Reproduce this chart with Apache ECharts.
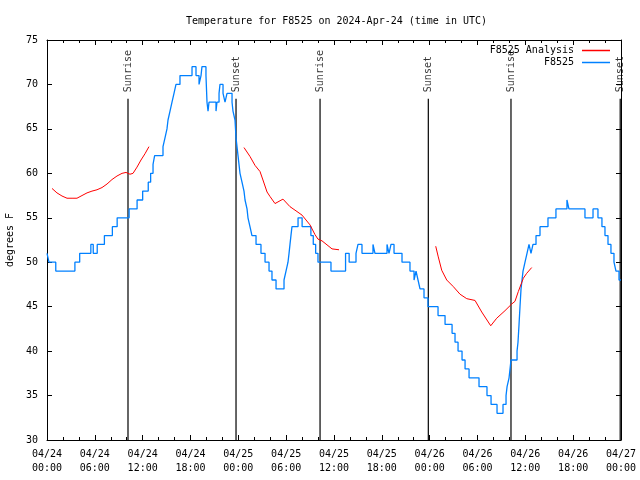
<!DOCTYPE html>
<html><head><meta charset="utf-8">
<script src="https://cdn.jsdelivr.net/npm/echarts@6/dist/echarts.min.js"></script>
<style>html,body{margin:0;padding:0;background:#fff}#c{width:640px;height:480px}</style>
</head><body><div id="c"></div>
<script>
// hours since 2024-04-24 00:00 UTC
const obsHours = [0.0,0.25,1.1,3.5,4.1,5.5,5.8,6.3,7.2,8.2,8.8,10.3,11.3,12.0,12.7,13.0,13.3,13.5,14.55,14.8,15.05,15.18,15.43,15.68,15.93,16.18,16.68,18.19,18.69,19.07,19.32,19.44,19.94,20.07,20.2,20.32,21.2,21.32,21.58,21.7,22.08,22.33,22.58,23.21,23.33,23.58,23.71,23.96,24.21,24.46,24.71,24.84,25.09,25.21,25.46,25.71,26.22,26.84,27.35,27.85,28.22,28.73,29.73,29.98,30.23,30.36,30.48,30.6,30.73,31.49,32.0,33.1,33.4,33.7,33.99,35.62,37.45,37.9,38.76,39.01,39.51,40.89,41.14,42.65,42.9,43.15,43.53,44.53,45.53,46.04,46.29,46.54,46.79,47.29,47.79,49.05,49.93,50.81,51.18,51.56,52.06,52.44,52.94,54.19,55.19,55.7,56.45,57.2,57.58,57.71,57.96,58.2,58.96,59.08,59.21,59.33,59.46,59.71,59.96,60.21,60.46,60.71,60.96,61.34,61.84,62.84,63.84,65.22,65.47,67.48,68.49,69.11,69.61,69.99,70.37,70.74,71.12,71.37,71.75,72.0];
const obsTemps = [51,50,49,50,51,52,51,52,53,54,55,56,57,58,59,60,61,62,63,64,65,66,67,68,69,70,71,72,71,70,71,72,71,68,67,68,67,68,69,70,69,68,69,68,67,66,64,62,60,59,58,57,56,55,54,53,52,51,50,49,48,47,48,49,50,51,52,53,54,55,54,53,52,51,50,49,51,50,51,52,51,52,51,52,51,52,51,50,49,48,49,48,47,46,45,44,43,42,41,40,39,38,37,36,35,34,33,34,35,36,37,39,40,41,43,45,47,49,50,51,52,51,52,53,54,55,56,57,56,55,56,55,54,53,52,51,50,49,48,48];

const anaHours1 = [0.63,1.25,1.88,2.51,3.14,3.76,4.39,5.02,5.64,6.27,6.9,7.53,8.15,8.78,9.41,9.91,10.41,10.79,11.29,11.79,12.29,12.79];
const anaTemps1 = [58.3,57.8,57.45,57.2,57.2,57.2,57.5,57.8,58.0,58.15,58.4,58.8,59.3,59.7,60.0,60.1,59.9,60.0,60.7,61.5,62.2,63.0];
const anaHours2 = [24.71,25.46,26.09,26.72,27.09,27.6,27.97,28.6,29.6,30.48,31.36,31.99,32.99,33.62,33.99,34.5,35.75,36.63];
const anaTemps2 = [62.9,61.9,60.9,60.2,59.25,57.9,57.4,56.6,57.1,56.25,55.7,55.3,54.2,53.1,52.6,52.4,51.5,51.4];
const anaHours3 = [48.76,49.08,49.51,50.14,50.97,51.81,52.65,53.69,54.53,55.66,56.41,57.45,58.29,58.7,59.12,59.75,60.17,60.8];
const anaTemps3 = [51.8,50.6,49.1,48.0,47.25,46.4,45.9,45.7,44.4,42.85,43.7,44.55,45.3,45.6,46.7,48.2,48.75,49.4];

const sunHours = [10.16,23.71,34.25,47.83,58.2,71.9];
const sunLabels = ['Sunrise','Sunset','Sunrise','Sunset','Sunrise','Sunset'];
const sunLineTop = 68.4;

const yTicks = {min:30, max:75, interval:5};
const xTicks = {min:0, max:72, interval:6};

const FONT = 'DejaVu Sans Mono';
const zip = (a,b) => a.map((v,i)=>[v,b[i]]);

const sunLineData = [];
sunHours.forEach(h => { sunLineData.push([h, yTicks.min]); sunLineData.push([h, sunLineTop]); sunLineData.push([h, '-']); });

function fmtX(v){
  const day = 24 + Math.floor(v/24);
  const hh = v % 24;
  return '04/' + day + '\n' + String(hh).padStart(2,'0') + ':00';
}

const anaStyle = {color:'#ff0000', width:1};
const chart = echarts.init(document.getElementById('c'), null, {renderer:'canvas'});
chart.setOption({
  animation:false,
  backgroundColor:'#ffffff',
  title:{text:'Temperature for F8525 on 2024-Apr-24 (time in UTC)', left:181, top:11,
    textStyle:{fontFamily:FONT, fontSize:10, fontWeight:'normal', color:'#000'}},
  legend:[
    {data:['F8525 Analysis'], right:30, top:45.5, padding:0, orient:'vertical', align:'right', icon:'rect', itemWidth:28, itemHeight:1.5, itemGap:0,
      textStyle:{fontFamily:FONT, fontSize:10, color:'#000', padding:[0,3,0,0]}, selectedMode:false},
    {data:['F8525'], right:30, top:57.5, padding:0, orient:'vertical', align:'right', icon:'rect', itemWidth:28, itemHeight:1.5, itemGap:0,
      textStyle:{fontFamily:FONT, fontSize:10, color:'#000', padding:[0,3,0,0]}, selectedMode:false}
  ],
  grid:{left:47, right:19, top:40, bottom:40, containLabel:false, outerBoundsMode:'none'},
  xAxis:[
    {type:'value', position:'bottom', min:xTicks.min, max:xTicks.max, interval:xTicks.interval,
      axisLine:{show:true, onZero:false, lineStyle:{color:'#000', width:1}},
      axisTick:{show:true, inside:true, length:5, lineStyle:{color:'#000'}},
      minorTick:{show:true, splitNumber:3, length:3, lineStyle:{color:'#000'}},
      splitLine:{show:false},
      axisLabel:{formatter:fmtX, fontFamily:FONT, fontSize:10, color:'#000', lineHeight:14, margin:7}},
    {type:'value', position:'top', min:xTicks.min, max:xTicks.max, interval:xTicks.interval,
      axisLine:{show:true, onZero:false, lineStyle:{color:'#000', width:1}},
      axisTick:{show:true, inside:true, length:5, lineStyle:{color:'#000'}},
      minorTick:{show:true, splitNumber:3, length:3, lineStyle:{color:'#000'}},
      splitLine:{show:false}, axisLabel:{show:false}}
  ],
  yAxis:[
    {type:'value', position:'left', min:yTicks.min, max:yTicks.max, interval:yTicks.interval,
      name:'degrees F', nameLocation:'middle', nameRotate:90, nameGap:32,
      nameTextStyle:{fontFamily:FONT, fontSize:10, color:'#000'},
      axisLine:{show:true, onZero:false, lineStyle:{color:'#000', width:1}},
      axisTick:{show:true, inside:true, length:5, lineStyle:{color:'#000'}},
      splitLine:{show:false},
      axisLabel:{fontFamily:FONT, fontSize:10, color:'#000', margin:9}},
    {type:'value', position:'right', min:yTicks.min, max:yTicks.max, interval:yTicks.interval,
      axisLine:{show:true, onZero:false, lineStyle:{color:'#000', width:1}},
      axisTick:{show:true, inside:true, length:5, lineStyle:{color:'#000'}},
      splitLine:{show:false}, axisLabel:{show:false}}
  ],
  series:[
    {name:'sun', type:'line', data:sunLineData, showSymbol:false, symbol:'none', connectNulls:false,
      lineStyle:{color:'#000', width:1.2}, silent:true, z:1},
    {name:'sunlabels', type:'scatter', data:sunHours.map((h,i)=>[h, sunLineTop, sunLabels[i]]), symbolSize:1,
      itemStyle:{color:'rgba(0,0,0,0)'}, silent:true,
      label:{show:true, formatter:p=>p.data[2], position:'top', distance:6, rotate:90, align:'left', verticalAlign:'middle',
        fontFamily:FONT, fontSize:10, color:'#000'}},
    {name:'F8525 Analysis', type:'line', data:zip(anaHours1, anaTemps1), showSymbol:false, symbol:'none', lineStyle:anaStyle, itemStyle:{color:'#ff0000'}, z:3},
    {name:'F8525 Analysis', type:'line', data:zip(anaHours2, anaTemps2), showSymbol:false, symbol:'none', lineStyle:anaStyle, itemStyle:{color:'#ff0000'}, z:3},
    {name:'F8525 Analysis', type:'line', data:zip(anaHours3, anaTemps3), showSymbol:false, symbol:'none', lineStyle:anaStyle, itemStyle:{color:'#ff0000'}, z:3},
    {name:'F8525', type:'line', step:'end', data:zip(obsHours, obsTemps), showSymbol:false, symbol:'none',
      lineStyle:{color:'#0080ff', width:1.3}, itemStyle:{color:'#0080ff'}, z:2}
  ]
});
</script></body></html>
